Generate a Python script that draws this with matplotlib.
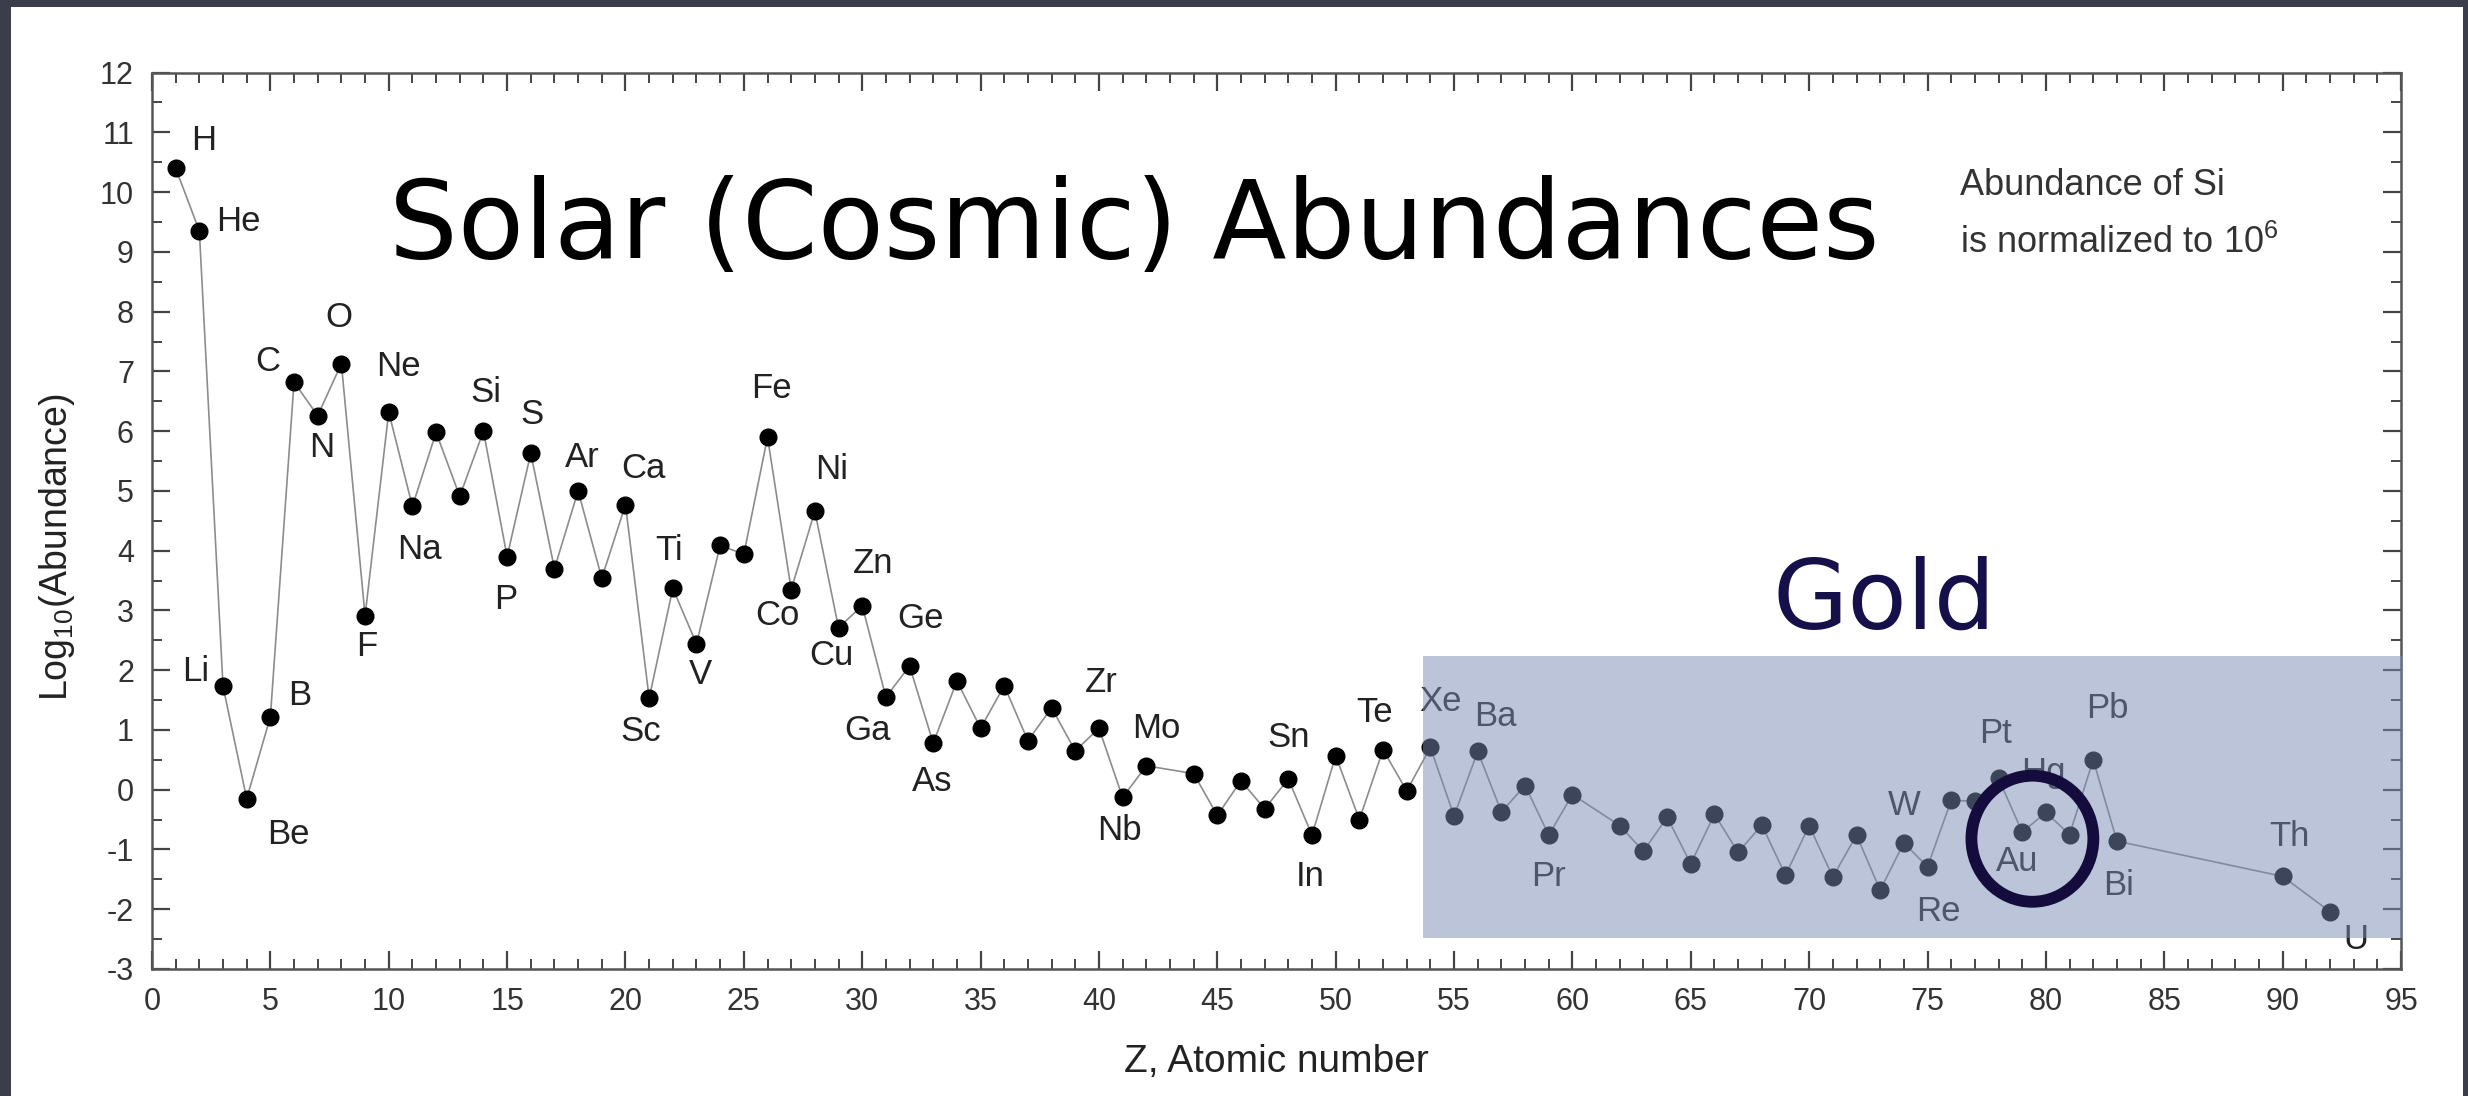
import matplotlib
matplotlib.use('Agg')
import matplotlib.pyplot as plt
from matplotlib.patches import Rectangle, Ellipse
from matplotlib.ticker import MultipleLocator

plt.rcParams['font.family'] = ['Liberation Sans', 'DejaVu Sans']
plt.rcParams['mathtext.fontset'] = 'custom'
plt.rcParams['mathtext.rm'] = 'Liberation Sans'
plt.rcParams['axes.unicode_minus'] = False

# ---------------- data ----------------
atomic_z = [1, 2, 3, 4, 5, 6, 7, 8, 9, 10, 11, 12, 13, 14, 15, 16, 17, 18, 19, 20,
            21, 22, 23, 24, 25, 26, 27, 28, 29, 30, 31, 32, 33, 34, 35, 36, 37, 38, 39, 40,
            41, 42, 44, 45, 46, 47, 48, 49, 50, 51, 52, 53, 54, 55, 56, 57, 58, 59, 60,
            62, 63, 64, 65, 66, 67, 68, 69, 70, 71, 72, 73, 74, 75, 76, 77, 78, 79, 80,
            81, 82, 83, 90, 92]
log_abundance = [10.40, 9.35, 1.73, -0.15, 1.22, 6.82, 6.26, 7.13, 2.91, 6.32,
                 4.74, 5.98, 4.91, 6.00, 3.90, 5.63, 3.70, 5.00, 3.54, 4.77,
                 1.53, 3.37, 2.44, 4.09, 3.94, 5.90, 3.35, 4.66, 2.71, 3.08,
                 1.55, 2.07, 0.78, 1.82, 1.03, 1.74, 0.82, 1.37, 0.65, 1.03,
                 -0.13, 0.40, 0.27, -0.43, 0.15, -0.32, 0.18, -0.76, 0.57, -0.50,
                 0.67, -0.02, 0.71, -0.44, 0.64, -0.37, 0.07, -0.76, -0.08,
                 -0.60, -1.03, -0.46, -1.24, -0.41, -1.05, -0.59, -1.43, -0.60, -1.46,
                 -0.76, -1.68, -0.89, -1.29, -0.18, -0.19, 0.19, -0.71, -0.38,
                 -0.75, 0.50, -0.86, -1.45, -2.04]

label_z = [1, 2, 3, 4, 5, 6, 7, 8, 9, 10, 11, 14, 15, 16, 18, 20, 21, 22, 23,
           26, 27, 28, 29, 30, 31, 32, 33, 40, 41, 42, 50, 49, 52, 54, 56, 59,
           74, 75, 78, 80, 79, 82, 83, 90, 92]
label_text = ['H', 'He', 'Li', 'Be', 'B', 'C', 'N', 'O', 'F', 'Ne', 'Na', 'Si', 'P', 'S',
              'Ar', 'Ca', 'Sc', 'Ti', 'V', 'Fe', 'Co', 'Ni', 'Cu', 'Zn', 'Ga', 'Ge', 'As',
              'Zr', 'Nb', 'Mo', 'Sn', 'In', 'Te', 'Xe', 'Ba', 'Pr', 'W', 'Re', 'Pt', 'Hg',
              'Au', 'Pb', 'Bi', 'Th', 'U']
label_dx = [20, 28, -20, 30, 21, -19, 3, -2, 1, 7, 5, 2, -1, 1, 3, 13, -6, -3, 3,
            3, -10, 12, -5, 8, -13, 8, -1, 2, -2, 7, -34, -1, -6, 7, 13, 0,
            0, 8, -2, -2, -4, 10, 1, 5, 19]
label_dy = [20, 7, 11, -26, 15, 15, -23, 33, -22, 33, -31, 28, -31, 28, 24, 26, -24, 27, -22,
            35, -19, 30, -20, 30, -24, 34, -28, 33, -24, 27, 13, -30, 27, 33, 25, -30,
            27, -32, 32, 29, -21, 37, -32, 29, -20]

x_ticks = list(range(0, 96, 5))
y_ticks = list(range(-3, 13))

# ---------------- figure ----------------
W, H = 2468, 1096
fig = plt.figure(figsize=(W / 100, H / 100), dpi=100, facecolor='#3b3e4a')
fig.patches.append(Rectangle((11 / W, 0), (2463 - 11) / W, 1 - 7 / H,
                             transform=fig.transFigure, facecolor='white',
                             edgecolor='none', zorder=-5))

ax = fig.add_axes([152 / W, 1 - 969 / H, (2401 - 152) / W, (969 - 72.6) / H])
ax.set_facecolor('none')

ax.plot(atomic_z, log_abundance, color='#8c8c8c', lw=1.2, zorder=2,
        marker='o', ms=12, mfc='black', mec='black')

for z, t, dx, dy in zip(label_z, label_text, label_dx, label_dy):
    v = log_abundance[atomic_z.index(z)]
    ax.annotate(t, (z, v), xytext=(dx, dy), textcoords='offset points',
                ha='center', va='center', fontsize=25, color='#222222', zorder=3)

ax.set_xlim(0, 95)
ax.set_ylim(-3, 12)
ax.set_xticks(x_ticks)
ax.set_yticks(y_ticks)
ax.xaxis.set_minor_locator(MultipleLocator(1))
ax.yaxis.set_minor_locator(MultipleLocator(0.5))
ax.tick_params(which='both', direction='in', top=True, right=True,
               colors='#444444', labelcolor='#333333', labelsize=22, pad=13)
ax.tick_params(which='major', length=13, width=1.6)
ax.tick_params(which='minor', length=7, width=1.4)
for s in ax.spines.values():
    s.set_color('#555555')
    s.set_linewidth(1.8)

ax.set_xlabel('Z, Atomic number', fontsize=28, color='#222222', va='center')
ax.xaxis.set_label_coords(0.5, (969 - 1062) / (969 - 72.6))
ax.set_ylabel('Log$_{\\mathregular{10}}$(Abundance)', fontsize=27, color='#222222',
              va='center', ha='center')
ax.yaxis.set_label_coords((57 - 152) / (2401 - 152), (969 - 547) / (969 - 72.6))

# highlight box and gold circle
ax.add_patch(Rectangle((53.7, -2.48), 95.1 - 53.7, 2.24 + 2.48,
                       facecolor=(120 / 255, 138 / 255, 178 / 255), alpha=0.5,
                       edgecolor='none', zorder=4, clip_on=False))
ax.add_patch(Ellipse((79.43, -0.82), 5.15, 2.11, fill=False, edgecolor='#130c3d',
                     lw=8.5, zorder=5, clip_on=False))

fig.text(1134 / W, 1 - 258 / H, 'Solar (Cosmic) Abundances', fontsize=78,
         ha='center', va='baseline', color='black', family='DejaVu Sans')
fig.text(1884 / W, 1 - 629 / H, 'Gold', fontsize=70, ha='center', va='baseline',
         color='#15104a', family='DejaVu Sans', zorder=6)
fig.text(1960 / W, 1 - 195 / H, 'Abundance of Si', fontsize=26, ha='left',
         va='baseline', color='#333333')
fig.text(1960 / W, 1 - 253 / H, 'is normalized to 10$^{\\mathregular{6}}$', fontsize=26,
         ha='left', va='baseline', color='#333333')

fig.savefig('out.png', dpi=100, facecolor=fig.get_facecolor())
